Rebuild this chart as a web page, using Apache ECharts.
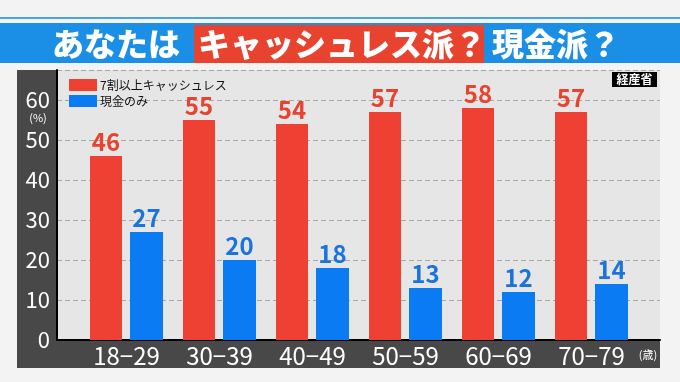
<!DOCTYPE html>
<html><head><meta charset="utf-8">
<script src="https://cdn.jsdelivr.net/npm/echarts@6/dist/echarts.min.js"></script>
<style>html,body{margin:0;padding:0;background:#f3f3f3}#c{width:680px;height:382px}</style>
</head><body><div id="c"></div>
<script>
const categories = ['18−29','30−39','40−49','50−59','60−69','70−79'];
const cashlessValues = [46, 55, 54, 57, 58, 57];
const cashOnlyValues = [27, 20, 18, 13, 12, 14];
const yTicks = [0, 10, 20, 30, 40, 50, 60];
const seriesNames = ['7割以上キャッシュレス', '現金のみ'];

const RED = '#ee4134', BLUE = '#0a7bf2';
const FONT = '"Noto Sans CJK JP", "Noto Sans", sans-serif';
const chart = echarts.init(document.getElementById('c'), null, {renderer: 'canvas'});
const yMax = 67.5;
chart.setOption({
  animation: false,
  backgroundColor: '#f3f3f3',
  textStyle: {fontFamily: FONT},
  graphic: [
    {type: 'rect', z: -20, shape: {x: 0, y: 17, width: 680, height: 2}, style: {fill: '#4aa3e8'}},
    {type: 'rect', z: -20, shape: {x: 0, y: 23, width: 680, height: 40}, style: {fill: '#1b8fe6'}},
    {type: 'rect', z: -19, shape: {x: 194, y: 25, width: 290, height: 38}, style: {fill: '#e8432f'}},
    {type: 'text', z: -18, x: 52, y: 44, style: {text: 'あなたは', fill: '#fff', font: '900 32px ' + FONT, textVerticalAlign: 'middle'}},
    {type: 'text', z: -18, x: 198, y: 44, style: {text: 'キャッシュレス派？', fill: '#fff', font: '900 32px ' + FONT, textVerticalAlign: 'middle'}},
    {type: 'text', z: -18, x: 492, y: 44, style: {text: '現金派？', fill: '#fff', font: '900 32px ' + FONT, textVerticalAlign: 'middle'}},
    {type: 'rect', z: -20, shape: {x: 17, y: 70, width: 643, height: 298}, style: {fill: '#484848'}},
    {type: 'rect', z: -19, shape: {x: 57, y: 70, width: 603, height: 270}, style: {fill: '#e6e6e6'}},
    {type: 'text', z: 5, x: 38, y: 118, style: {text: '(%)', fill: '#fff', font: '11px ' + FONT, textAlign: 'center', textVerticalAlign: 'middle'}},
    {type: 'text', z: 5, x: 648, y: 355, style: {text: '(歳)', fill: '#fff', font: '11px ' + FONT, textAlign: 'center', textVerticalAlign: 'middle'}},
    {type: 'rect', z: 5, shape: {x: 612, y: 72, width: 45, height: 15}, style: {fill: '#000'}},
    {type: 'text', z: 6, x: 634.5, y: 79.5, style: {text: '経産省', fill: '#fff', font: 'bold 12px ' + FONT, textAlign: 'center', textVerticalAlign: 'middle'}}
  ],
  legend: {
    left: 64, top: 74, orient: 'vertical', itemWidth: 28, itemHeight: 12, itemGap: 4,
    icon: 'rect', data: seriesNames,
    textStyle: {color: '#111', fontSize: 12, fontFamily: FONT, padding: [0, 0, 0, -2]}
  },
  grid: [
    {left: 57, right: 20, top: 70, bottom: 42},
    {left: 80, width: 558, top: 70, bottom: 42}
  ],
  xAxis: [
    {type: 'value', gridIndex: 0, min: 0, max: 1, show: true, axisLabel: {show: false}, axisTick: {show: false}, splitLine: {show: false},
     axisLine: {show: true, onZero: false, lineStyle: {color: '#000', width: 2}}},
    {type: 'category', gridIndex: 1, data: categories, axisLine: {show: false}, axisTick: {show: false},
     axisLabel: {color: '#fff', fontSize: 24, margin: 4, fontFamily: FONT}}
  ],
  yAxis: [
    {type: 'value', gridIndex: 0, min: 0, max: yMax, interval: 10,
     axisLine: {show: true, lineStyle: {color: '#000', width: 2}}, axisTick: {show: false},
     axisLabel: {color: '#fff', fontSize: 22, margin: 7, fontFamily: FONT,
       formatter: v => yTicks.includes(v) ? String(v) : ''},
     splitLine: {show: true, lineStyle: {color: '#a8a8a8', type: [5, 3], width: 1}}},
    {type: 'value', gridIndex: 1, min: 0, max: yMax, show: false, splitLine: {show: false}}
  ],
  series: [
    {name: seriesNames[0], type: 'bar', xAxisIndex: 1, yAxisIndex: 1, data: cashlessValues,
     barWidth: 32, barGap: '25%', itemStyle: {color: RED},
     label: {show: true, position: 'top', distance: 2, color: '#e8432f', fontSize: 24, fontWeight: 'bold', fontFamily: FONT}},
    {name: seriesNames[1], type: 'bar', xAxisIndex: 1, yAxisIndex: 1, data: cashOnlyValues,
     barWidth: 33, itemStyle: {color: BLUE},
     label: {show: true, position: 'top', distance: 2, color: '#1a74dc', fontSize: 24, fontWeight: 'bold', fontFamily: FONT}}
  ]
});
</script></body></html>
